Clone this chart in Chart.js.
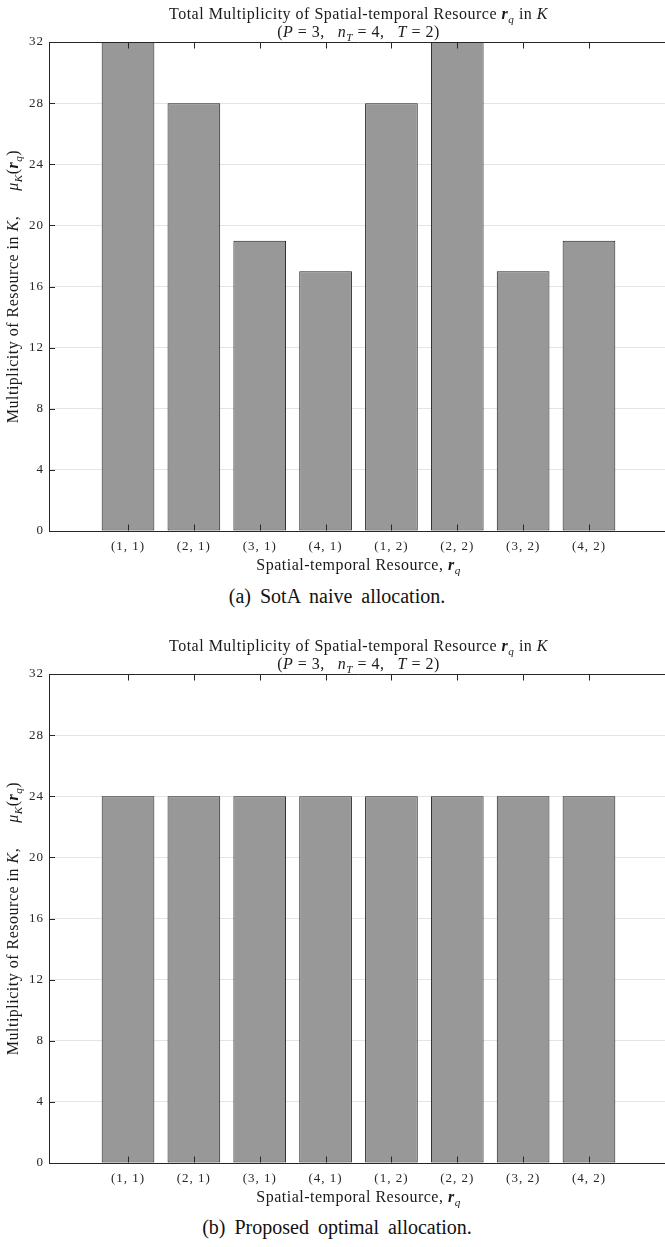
<!DOCTYPE html>
<html>
<head>
<meta charset="utf-8">
<script src="https://cdn.jsdelivr.net/npm/chart.js@4"></script>
<style>
  body { margin: 0; background: #fff; overflow: hidden; }
  #page { position: relative; width: 665px; height: 1247px; overflow: hidden; }
  .block { position: absolute; left: 0; width: 670px; height: 580px; }
  .caption {
    position: absolute; left: 0; width: 665px; padding-left: 9px; box-sizing: border-box;
    text-align: center; font-family: "Liberation Serif", serif; font-size: 20px; color: #111;
    word-spacing: 4px;
  }
</style>
</head>
<body>
<div id="page">
  <div class="block" style="top:0"><canvas id="naiveChart"></canvas></div>
  <div class="caption" style="top:585px">(a) SotA naive allocation.</div>
  <div class="block" style="top:632px"><canvas id="optimalChart"></canvas></div>
  <div class="caption" style="top:1216px">(b) Proposed optimal allocation.</div>
</div>
<script>
// Data
const categories = ['(1, 1)', '(2, 1)', '(3, 1)', '(4, 1)', '(1, 2)', '(2, 2)', '(3, 2)', '(4, 2)'];
const naiveValues = [32, 28, 19, 17, 28, 32, 17, 19];
const optimalValues = [24, 24, 24, 24, 24, 24, 24, 24];
const yTicks = [0, 4, 8, 12, 16, 20, 24, 28, 32];

// Text pieces: [text, style] n = normal, i = italic, b = bold italic, s = subscript
const titleLine1 = [['Total Multiplicity of Spatial-temporal Resource ', 'n'], ['r', 'b'], ['q', 's'], [' in ', 'n'], ['K', 'i']];
const titleLine2 = [['(', 'n'], ['P', 'i'], [' = 3,\u2002 ', 'n'], ['n', 'i'], ['T', 's'], [' = 4,\u2002 ', 'n'], ['T', 'i'], [' = 2)', 'n']];
const xLabel = [['Spatial-temporal Resource, ', 'n'], ['r', 'b'], ['q', 's']];
const yLabel = [['Multiplicity of Resource in ', 'n'], ['K', 'i'], [',\u2003\u2002', 'n'], ['\u03bc', 'i'], ['K', 's'], ['(', 'n'], ['r', 'b'], ['q', 's'], [')', 'n']];

const serif = '"Liberation Serif", serif';
const textColor = '#262626';
const labelSize = 16;

function fontFor(style, size) {
  if (style === 'i') return 'italic ' + size + 'px ' + serif;
  if (style === 'b') return 'italic bold ' + size + 'px ' + serif;
  if (style === 's') return 'italic ' + (size * 0.7) + 'px ' + serif;
  return size + 'px ' + serif;
}

// draws a line of mixed text centred on x, with y as the baseline
function drawRich(ctx, segs, x, y, size) {
  ctx.letterSpacing = '0.5px';
  let total = 0;
  segs.forEach(function (s) {
    ctx.font = fontFor(s[1], size);
    total += ctx.measureText(s[0]).width;
  });
  let pos = x - total / 2;
  ctx.textAlign = 'left';
  ctx.textBaseline = 'alphabetic';
  segs.forEach(function (s) {
    ctx.font = fontFor(s[1], size);
    const dy = s[1] === 's' ? size * 0.25 : 0;
    ctx.fillText(s[0], pos, y + dy);
    pos += ctx.measureText(s[0]).width;
  });
}

// titles and axis labels
const richLabels = {
  id: 'richLabels',
  beforeDraw(chart) {
    // spreads the tick labels a little, the original font is wider
    chart.ctx.letterSpacing = '1px';
  },
  afterDraw(chart) {
    const ctx = chart.ctx;
    const a = chart.chartArea;
    const cx = (a.left + a.right) / 2;
    const cy = (a.top + a.bottom) / 2;
    ctx.save();
    ctx.fillStyle = '#1a1a1a';
    drawRich(ctx, titleLine1, cx, 19, labelSize);
    drawRich(ctx, titleLine2, cx, 37, labelSize);
    drawRich(ctx, xLabel, cx, a.bottom + 39, labelSize);
    ctx.translate(18, cy);
    ctx.rotate(-Math.PI / 2);
    drawRich(ctx, yLabel, 0, 0, labelSize);
    ctx.restore();
  }
};

// inward tick marks and the top box line, drawn over the bars
const innerTicks = {
  id: 'innerTicks',
  afterDatasetsDraw(chart) {
    const ctx = chart.ctx;
    const a = chart.chartArea;
    const xs = chart.scales.x;
    const ys = chart.scales.y;
    const len = 6;
    ctx.save();
    ctx.strokeStyle = textColor;
    ctx.lineWidth = 1;
    ctx.beginPath();
    const top = Math.round(a.top) + 0.5;
    const bottom = Math.round(a.bottom) - 0.5;
    ctx.moveTo(a.left, top);
    ctx.lineTo(a.right, top);
    xs.ticks.forEach(function (t) {
      const px = Math.round(xs.getPixelForValue(t.value)) + 0.5;
      ctx.moveTo(px, bottom);
      ctx.lineTo(px, bottom - len);
      ctx.moveTo(px, top);
      ctx.lineTo(px, top + len);
    });
    ys.ticks.forEach(function (t) {
      const py = Math.round(ys.getPixelForValue(t.value)) + 0.5;
      ctx.moveTo(a.left, py);
      ctx.lineTo(a.left + len, py);
    });
    ctx.stroke();
    ctx.restore();
  }
};

function makeChart(id, values) {
  const ctx = document.getElementById(id).getContext('2d');
  return new Chart(ctx, {
    type: 'bar',
    data: {
      datasets: [
        {
          data: values.map(function (v, i) { return { x: i + 1, y: v }; }),
          backgroundColor: '#989898',
          borderColor: '#1f1f1f',
          borderWidth: 1,
          borderSkipped: false,
          categoryPercentage: 1,
          barPercentage: 0.8,
        },
      ],
    },
    options: {
      responsive: true,
      maintainAspectRatio: false,
      animation: false,
      layout: { padding: { top: 42, right: 2, left: 0, bottom: 0 } },
      scales: {
        x: {
          type: 'linear',
          min: -0.2,
          max: 9.2,
          offset: false,
          grid: { display: false, drawTicks: false, offset: false },
          border: { display: true, color: textColor, width: 1 },
          afterBuildTicks: function (scale) {
            scale.ticks = categories.map(function (c, i) { return { value: i + 1 }; });
          },
          afterFit: function (scale) {
            scale.height = 49;
          },
          ticks: {
            autoSkip: false,
            maxRotation: 0,
            padding: 8,
            color: textColor,
            font: { family: serif, size: 13 },
            callback: function (value) {
              return categories[value - 1];
            },
          },
        },
        y: {
          min: 0,
          max: 32,
          grid: { color: '#e4e4e4', lineWidth: 1, drawTicks: false },
          border: { display: true, color: textColor, width: 1 },
          afterBuildTicks: function (scale) {
            scale.ticks = yTicks.map(function (v) { return { value: v }; });
          },
          afterFit: function (scale) {
            scale.width = 49;
          },
          ticks: {
            padding: 5,
            color: textColor,
            font: { family: serif, size: 13 },
          },
        },
      },
      plugins: {
        legend: { display: false },
        tooltip: { enabled: false },
      },
    },
    plugins: [innerTicks, richLabels],
  });
}

makeChart('naiveChart', naiveValues);
makeChart('optimalChart', optimalValues);
</script>
</body>
</html>
